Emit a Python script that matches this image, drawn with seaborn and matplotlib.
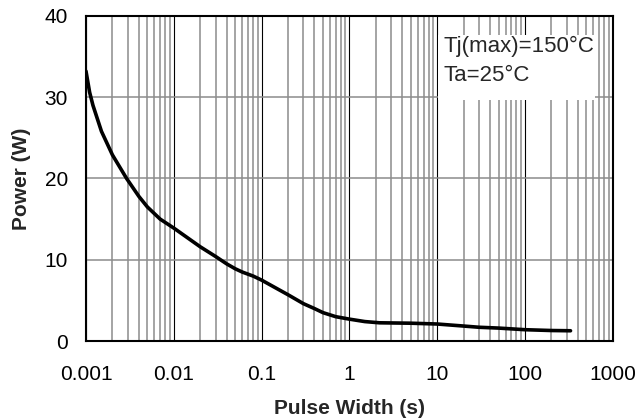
import numpy as np
import pandas as pd
import matplotlib
matplotlib.use("Agg")
import matplotlib.pyplot as plt
from matplotlib.patches import Rectangle
from matplotlib.ticker import LogLocator, FixedLocator, NullFormatter
import seaborn as sns

sns.set_style("white")
plt.rcParams["font.family"] = ["Liberation Sans", "DejaVu Sans"]

# transient power vs pulse width
PULSE_WIDTH = [0.001, 0.0011, 0.0012, 0.0015, 0.002, 0.0029, 0.004, 0.005,
               0.007, 0.01, 0.02, 0.03, 0.04, 0.05, 0.06, 0.08, 0.1, 0.2,
               0.3, 0.4, 0.5, 0.7, 1, 1.5, 2.2, 5, 10, 20, 30, 50, 100, 200,
               330]
POWER = [33.2, 30.6, 29.0, 25.8, 22.9, 20.0, 17.8, 16.5,
         15.0, 13.9, 11.6, 10.4, 9.5, 8.9, 8.5, 8.0, 7.5, 5.7,
         4.6, 4.0, 3.5, 3.0, 2.7, 2.4, 2.25, 2.2, 2.1, 1.85, 1.7, 1.6, 1.4,
         1.3, 1.27]

X_TICKS = [0.001, 0.01, 0.1, 1, 10, 100, 1000]
X_TICK_LABELS = ["0.001", "0.01", "0.1", "1", "10", "100", "1000"]
Y_TICKS = [0, 10, 20, 30, 40]

NOTE = "Tj(max)=150\u00b0C\nTa=25\u00b0C"

df = pd.DataFrame({"pulse": PULSE_WIDTH, "power": POWER})

fig = plt.figure(figsize=(6.37, 4.18), dpi=100)
ax = fig.add_axes([0.135, 0.184, 0.827, 0.778])

ax.set_xscale("log")
ax.set_xlim(0.001, 1000)
ax.set_ylim(0, 40)

# grid: gray minor verticals, thin black decade lines, gray horizontals
ax.xaxis.set_minor_locator(LogLocator(base=10, subs=np.arange(2, 10)))
ax.xaxis.set_minor_formatter(NullFormatter())
ax.grid(True, which="minor", axis="x", color="#8c8c8c", linewidth=1.1)
ax.grid(True, which="major", axis="x", color="black", linewidth=0.8)
ax.grid(True, which="major", axis="y", color="#8c8c8c", linewidth=1.1)
ax.set_axisbelow(True)

sns.lineplot(data=df, x="pulse", y="power", ax=ax, color="black",
             linewidth=2.6, zorder=3)

ax.xaxis.set_major_locator(FixedLocator(X_TICKS))
ax.set_xticklabels(X_TICK_LABELS)
ax.yaxis.set_major_locator(FixedLocator(Y_TICKS))
ax.tick_params(axis="both", which="both", length=0, labelsize=15,
               colors="black")
ax.tick_params(axis="x", pad=17)
ax.tick_params(axis="y", pad=13)

for s in ax.spines.values():
    s.set_color("black")
    s.set_linewidth(1.5)
    s.set_zorder(4)

ax.set_xlabel("Pulse Width (s)", fontsize=15, fontweight="bold", labelpad=11)
ax.set_ylabel("Power (W)", fontsize=15, fontweight="bold", labelpad=10)

# white note box covering the grid, like the source's text box
ax.add_patch(Rectangle((0.668, 0.742), 0.298, 0.2, transform=ax.transAxes,
                       facecolor="white", edgecolor="none", zorder=2.5))
ax.text(0.678, 0.937, NOTE, transform=ax.transAxes, fontsize=16,
        va="top", ha="left", linespacing=1.5, zorder=5)

fig.savefig("out.png", dpi=100)
